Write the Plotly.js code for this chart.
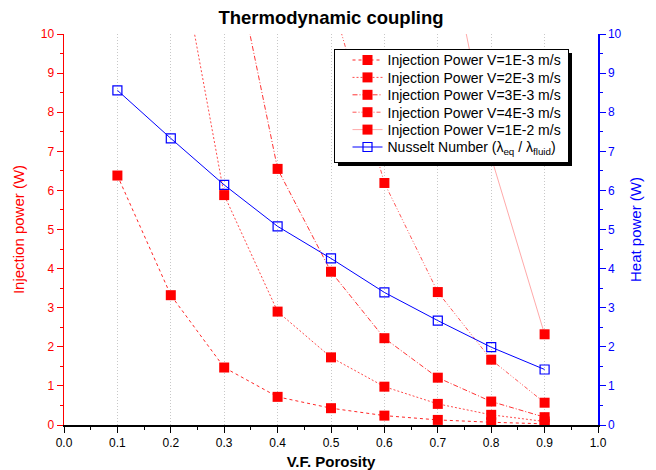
<!DOCTYPE html>
<html>
<head>
<meta charset="utf-8">
<script src="https://cdn.plot.ly/plotly-3.0.1.min.js"></script>
<style>html,body{margin:0;padding:0;background:#fff;}#chart{width:656px;height:470px;}</style>
</head>
<body>
<div id="chart"></div>
<script>
// Data
var porosity = [0.1, 0.2, 0.3, 0.4, 0.5, 0.6, 0.7, 0.8, 0.9];
var powerV1e3 = [6.38, 3.32, 1.47, 0.72, 0.43, 0.24, 0.13, 0.07, 0.03];
var powerV2e3 = [null, 13.3, 5.88, 2.90, 1.73, 0.98, 0.54, 0.26, 0.09];
var powerV3e3 = [null, null, 13.2, 6.55, 3.92, 2.22, 1.21, 0.60, 0.20];
var powerV4e3 = [null, null, null, null, 10.95, 6.19, 3.40, 1.67, 0.57];
var powerV1e2 = [null, null, null, null, null, null, 13.6, 6.85, 2.32];
var nusselt = [8.56, 7.33, 6.14, 5.08, 4.26, 3.39, 2.67, 1.99, 1.42];
var seriesNames = [
  "Injection Power V=1E-3 m/s",
  "Injection Power V=2E-3 m/s",
  "Injection Power V=3E-3 m/s",
  "Injection Power V=4E-3 m/s",
  "Injection Power V=1E-2 m/s",
  "Nusselt Number (λ<sub>eq</sub> / λ<sub>fluid</sub>)"
];
var xTicks = [0, 0.1, 0.2, 0.3, 0.4, 0.5, 0.6, 0.7, 0.8, 0.9, 1.0];

var FONT = "Arial, 'Liberation Sans', sans-serif";
var redSeries = [powerV1e3, powerV2e3, powerV3e3, powerV4e3, powerV1e2];
var dashes = ["3px,3px", "2px,2px", "5px,2px,1px,2px", "4px,2px,1px,2px,1px,2px", "solid"];
var lineColors = ["rgba(255,0,0,0.85)", "rgba(255,30,30,0.8)", "rgba(255,0,0,0.8)", "rgba(255,30,30,0.75)", "rgba(255,140,140,0.75)"];

var traces = redSeries.map(function (ys, i) {
  return {
    x: porosity, y: ys, name: seriesNames[i], type: "scatter", mode: "lines+markers",
    connectgaps: false,
    line: {color: lineColors[i], width: 1, dash: dashes[i]},
    marker: {symbol: "square", size: 10, color: "#ff0000", line: {width: 0}},
    xaxis: "x", yaxis: "y"
  };
});
traces.push({
  x: porosity, y: nusselt, name: seriesNames[5], type: "scatter", mode: "lines+markers",
  line: {color: "#0000ff", width: 1},
  marker: {symbol: "square-open", size: 9, color: "#0000ff", line: {width: 1.2}},
  xaxis: "x", yaxis: "y2"
});

// plot area pixels: left 64, right 598, top 34, bottom 425
var L = 64, R = 598, T = 34, B = 425;
function px(xp) { return (xp - L) / (R - L); }
function py(yp) { return (B - yp) / (B - T); }

// legend box (pixels) as seen in the reference
var LG = {x: 334, y: 49, w: 234, h: 113, first: 11, step: 17.4, itemX: 13.5, shadow: 4};

var layout = {
  width: 656, height: 470,
  margin: {l: L, r: 656 - R, t: T, b: 470 - B},
  paper_bgcolor: "#fff", plot_bgcolor: "#fff",
  font: {family: FONT, size: 12, color: "#000"},
  title: {text: "<b>Thermodynamic coupling</b>", font: {family: FONT, size: 18.5, color: "#000"},
          x: 0.5, xref: "paper", xanchor: "center", y: 0.963, yref: "container", yanchor: "middle"},
  showlegend: true,
  legend: {x: px(LG.x), y: py(LG.y), xanchor: "left", yanchor: "top",
           bgcolor: "#ffffff", bordercolor: "#000", borderwidth: 1,
           font: {family: FONT, size: 14, color: "#000"}, tracegroupgap: 0, itemwidth: 30},
  xaxis: {range: [0, 1], tickvals: xTicks, ticktext: xTicks.map(function (v) { return v.toFixed(1); }),
          ticks: "outside", ticklen: 6, tickcolor: "#000", tickwidth: 1,
          minor: {dtick: 0.05, tick0: 0, ticks: "outside", ticklen: 3, tickcolor: "#000", showgrid: false},
          showline: true, linecolor: "#000", linewidth: 1.5, zeroline: false,
          showgrid: true, gridcolor: "#c8c8c8", griddash: "1px,2px", gridwidth: 1,
          tickfont: {family: FONT, size: 12, color: "#000"},
          title: {text: "<b>V.F. Porosity</b>", font: {family: FONT, size: 15, color: "#000"}, standoff: 8}},
  xaxis2: {range: [0, 1], overlaying: "x", side: "top", anchor: "y", dtick: 0.05, tick0: 0,
           ticks: "inside", ticklen: 4, tickcolor: "#000", showticklabels: false,
           showline: true, linecolor: "#000", linewidth: 1.5, showgrid: false, zeroline: false},
  yaxis: {range: [0, 10], dtick: 1, ticks: "outside", ticklen: 6, tickcolor: "#ff0000",
          minor: {dtick: 0.5, ticks: "outside", ticklen: 3, tickcolor: "#ff0000", showgrid: false},
          showline: true, linecolor: "#ff0000", linewidth: 1.5, showgrid: false, zeroline: false,
          tickfont: {family: FONT, size: 12, color: "#ff0000"},
          title: {text: "Injection power (W)", font: {family: FONT, size: 15, color: "#ff0000"}, standoff: 12}},
  yaxis2: {range: [0, 10], dtick: 1, overlaying: "y", side: "right", anchor: "x",
           ticks: "outside", ticklen: 6, tickcolor: "#0000ff",
           minor: {dtick: 0.5, ticks: "outside", ticklen: 3, tickcolor: "#0000ff", showgrid: false},
           showline: true, linecolor: "#0000ff", linewidth: 1.5, showgrid: false, zeroline: false,
           tickfont: {family: FONT, size: 12, color: "#0000ff"},
           title: {text: "Heat power (W)", font: {family: FONT, size: 15, color: "#0000ff"}, standoff: 10}},
  shapes: [
    {type: "rect", xref: "paper", yref: "paper", layer: "above",
     x0: px(LG.x + LG.shadow), x1: px(LG.x + LG.w + LG.shadow),
     y0: py(LG.y + LG.h + LG.shadow), y1: py(LG.y + LG.shadow),
     fillcolor: "#000", line: {width: 0}}
  ]
};

Plotly.newPlot("chart", traces, layout, {displayModeBar: false, staticPlot: true}).then(function (gd) {
  // tighten the legend rows to the reference spacing
  var items = gd.querySelectorAll(".legend .traces");
  items.forEach(function (g, i) {
    g.setAttribute("transform", "translate(" + LG.itemX + "," + (LG.first + i * LG.step) + ")");
  });
  var bg = gd.querySelector(".legend .bg");
  if (bg) {
    bg.setAttribute("width", LG.w);
    bg.setAttribute("height", LG.h);
  }
  var clip = document.querySelectorAll("clipPath[id^='legend'] rect");
  clip.forEach(function (r) { r.setAttribute("width", LG.w); r.setAttribute("height", LG.h + 2); });
});
</script>
</body>
</html>
